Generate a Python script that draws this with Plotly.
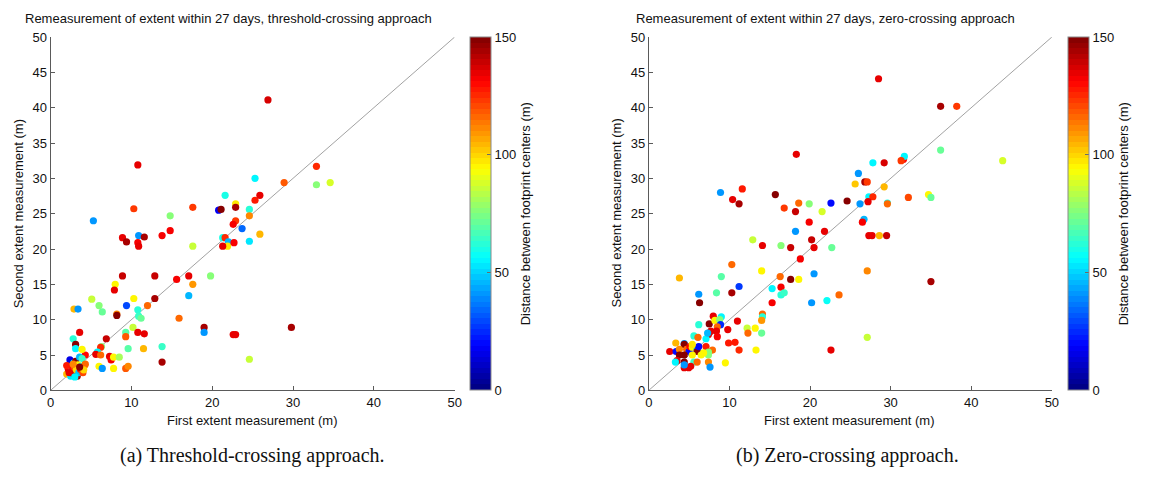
import plotly.graph_objects as go

# ---------------- data ----------------
# (a) threshold-crossing approach
x_a = [26.9, 10.8, 32.9, 25.3, 28.9, 34.6, 32.9, 21.6, 25.9, 25.3, 22.9, 22.9, 17.6, 10.3, 20.8, 21.1,
       14.8, 24.6, 24.6, 5.3, 22.9, 22.6, 23.7, 14.8, 25.9, 13.8, 10.9, 11.6, 8.9, 9.4, 10.8, 10.9,
       21.3, 21.6, 22.0, 21.9, 21.3, 22.7, 24.6, 17.6, 8.9, 12.9, 17.1, 19.8, 15.6, 8.0, 17.6, 7.9,
       17.1, 5.1, 10.3, 12.9, 6.0, 9.4, 12.0, 2.9, 3.4, 6.4, 10.8, 8.2, 8.2, 10.9, 11.2, 15.9,
       19.0, 29.8, 10.2, 9.3, 10.8, 11.6, 19.0, 22.6, 22.9, 9.3, 6.9, 3.6, 2.8, 3.1, 3.1, 9.6,
       11.5, 13.8, 6.3, 6.2, 5.8, 5.6, 6.2, 7.3, 7.5, 7.8, 8.5, 6.0, 6.4, 7.8, 9.3, 9.6,
       13.8, 24.6, 4.3, 3.9,
       2.0, 2.2, 2.3, 2.4, 2.5, 2.6, 2.7, 2.8, 2.9, 3.0, 3.1, 3.2, 3.3, 3.4, 3.5, 3.6,
       3.7, 3.8, 3.9, 4.0, 4.2, 4.3, 2.0, 2.3, 3.0, 2.8, 4.1, 3.6]
y_a = [41.1, 31.9, 31.7, 30.0, 29.4, 29.4, 29.1, 27.6, 27.6, 26.9, 26.4, 25.9, 25.9, 25.7, 25.5, 25.6,
       24.7, 25.6, 24.7, 24.0, 24.0, 23.5, 22.9, 22.6, 22.1, 21.9, 21.9, 21.7, 21.6, 21.0, 20.9, 20.4,
       21.6, 21.6, 21.0, 20.4, 20.4, 20.9, 21.1, 20.4, 16.2, 16.2, 16.2, 16.2, 15.7, 15.0, 15.0, 14.2,
       13.4, 12.9, 13.0, 13.0, 12.0, 12.0, 12.0, 11.5, 11.5, 11.1, 11.4, 10.8, 10.6, 10.5, 10.2, 10.2,
       8.9, 8.9, 8.9, 8.2, 8.2, 8.0, 8.2, 7.9, 7.9, 7.6, 7.3, 8.2, 7.3, 6.5, 5.9, 5.9,
       5.9, 6.2, 6.2, 6.1, 5.4, 5.1, 5.0, 4.8, 4.3, 4.7, 4.7, 3.4, 3.1, 3.1, 3.1, 3.4,
       4.0, 4.4, 5.0, 5.8,
       2.3, 3.0, 3.6, 4.3, 2.0, 2.8, 3.3, 2.4, 3.9, 3.2, 4.1, 2.9, 2.0, 3.6, 2.5, 4.7,
       3.0, 3.4, 4.5, 2.5, 3.5, 3.7, 3.5, 2.5, 1.9, 3.7, 2.9, 3.3]
d_a = [138, 135, 125, 55, 118, 88, 75, 60, 135, 128, 97, 145, 122, 122, 18, 148,
       75, 62, 112, 42, 122, 133, 35, 133, 105, 133, 42, 145, 135, 145, 133, 135,
       60, 125, 45, 97, 135, 133, 52, 85, 140, 140, 135, 75, 133, 95, 108, 135,
       45, 85, 95, 145, 75, 30, 115, 105, 42, 72, 62, 112, 148, 65, 72, 115,
       145, 145, 85, 68, 135, 135, 42, 135, 135, 118, 140, 135, 62, 148, 55, 68,
       105, 65, 75, 125, 55, 135, 115, 135, 133, 95, 80, 95, 40, 95, 118, 112,
       145, 85, 130, 95,
       105, 135, 75, 15, 52, 45, 130, 140, 55, 118, 148, 100, 145, 95, 48, 45,
       128, 60, 65, 120, 110, 115, 128, 135, 55, 112, 100, 150]

# (b) zero-crossing approach
x_b = [28.5, 36.2, 38.2, 36.2, 43.9, 18.3, 31.6, 31.7, 31.3, 27.8, 29.2, 26.0, 25.6, 26.8, 27.1, 29.2,
       8.9, 10.4, 11.6, 11.2, 15.7, 27.3, 27.8, 34.7, 35.0, 32.2, 16.8, 18.6, 19.9, 22.6, 24.6, 27.2,
       26.2, 29.6, 29.6, 21.5, 18.2, 26.7, 26.5, 19.9, 18.2, 21.8, 27.3, 27.7, 28.6, 29.5, 12.9, 14.1,
       16.4, 17.6, 20.2, 20.5, 22.7, 18.8, 10.3, 14.0, 27.1, 3.8, 9.0, 16.3, 18.6, 17.6, 20.5, 35.0,
       6.2, 8.4, 10.3, 11.2, 15.3, 16.4, 16.4, 16.8, 6.3, 15.3, 20.2, 22.1, 23.6, 14.1, 14.1, 14.0,
       11.0, 9.8, 12.2, 13.2, 12.3, 14.0, 9.9, 10.7, 11.2, 13.3, 9.5, 22.6, 27.1, 8.0, 9.0, 6.2,
       7.5, 8.2, 8.8, 8.9, 8.5, 7.4, 7.7, 8.4, 8.5, 7.1, 5.6, 6.1, 7.3, 3.35, 4.4, 4.4,
       2.6, 3.4, 3.8, 4.7, 5.0, 5.1, 5.4, 6.0, 6.0, 6.2, 7.1, 7.9, 7.4, 7.4, 6.8, 6.5,
       5.4, 3.8, 4.4, 3.5, 3.3, 4.4, 5.6, 6.0, 7.4, 4.4, 4.95, 5.2, 7.6, 4.4, 5.4]
y_b = [44.1, 40.2, 40.2, 34.0, 32.5, 33.4, 32.7, 33.1, 32.5, 32.2, 32.2, 30.7, 29.2, 29.5, 29.5, 28.8,
       28.0, 27.0, 28.5, 26.4, 27.7, 27.4, 27.4, 27.7, 27.3, 27.3, 25.8, 26.5, 26.4, 26.5, 26.8, 26.7,
       26.4, 26.5, 26.4, 25.3, 25.3, 24.2, 23.8, 23.8, 22.5, 22.5, 21.9, 21.9, 21.9, 21.9, 21.3, 20.5,
       20.5, 20.2, 21.3, 20.2, 20.2, 18.6, 17.8, 16.9, 16.9, 15.9, 16.1, 16.1, 15.7, 15.7, 16.5, 15.4,
       13.6, 13.8, 13.8, 14.7, 14.4, 14.6, 13.5, 13.8, 12.4, 12.4, 12.4, 12.7, 13.5, 10.8, 10.4, 9.9,
       9.8, 8.6, 8.8, 8.8, 8.1, 8.1, 6.7, 6.8, 5.7, 5.7, 3.9, 5.7, 7.5, 10.5, 10.4, 9.3,
       9.4, 9.9, 10.0, 9.3, 9.0, 7.9, 8.4, 8.4, 7.6, 7.3, 7.7, 7.5, 8.1, 6.7, 6.6, 6.5,
       5.5, 5.5, 5.8, 5.8, 5.5, 6.2, 6.1, 5.7, 5.5, 6.2, 6.2, 5.7, 5.4, 5.0, 5.3, 5.0,
       5.0, 5.0, 5.0, 4.2, 4.0, 4.0, 4.0, 4.0, 4.0, 3.2, 3.2, 3.4, 3.3, 3.6, 6.5]
d_b = [135, 145, 122, 72, 88, 135, 130, 55, 122, 55, 138, 42, 102, 145, 122, 105,
       42, 135, 128, 145, 148, 55, 125, 95, 72, 120, 122, 115, 75, 20, 148, 135,
       42, 60, 115, 88, 140, 45, 133, 133, 42, 135, 135, 135, 105, 140, 85, 135,
       75, 140, 140, 135, 72, 133, 115, 95, 112, 105, 70, 115, 95, 148, 42, 145,
       42, 68, 145, 28, 55, 133, 62, 65, 148, 133, 42, 58, 115, 115, 62, 108,
       135, 135, 85, 95, 115, 72, 128, 128, 125, 95, 95, 135, 85, 135, 55, 62,
       148, 95, 75, 25, 115, 135, 135, 135, 133, 55, 62, 115, 45, 105, 40, 148,
       135, 20, 112, 115, 20, 133, 95, 40, 148, 20, 128, 115, 75, 75, 95, 95,
       95, 148, 148, 135, 55, 148, 65, 115, 112, 135, 135, 135, 42, 42, 97]

axis_ticks = [0, 10, 20, 30, 40, 50]
y_ticks = [0, 5, 10, 15, 20, 25, 30, 35, 40, 45, 50]
cbar_ticks = [0, 50, 100, 150]
diag = [0, 50]

titles = ["Remeasurement of extent within 27 days, threshold-crossing approach",
          "Remeasurement of extent within 27 days, zero-crossing approach"]
captions = ["(a) Threshold-crossing approach.", "(b) Zero-crossing approach."]
xlabel = "First extent measurement (m)"
ylabel = "Second extent measurement (m)"
cblabel = "Distance between footprint centers (m)"

# ---------------- style ----------------
W, H = 1149, 488
FONT = "Liberation Sans, Arial, sans-serif"
FS = 13


def jet(t):
    def c(v):
        return max(0.0, min(1.0, v))
    r = c(1.5 - abs(4 * t - 3))
    g = c(1.5 - abs(4 * t - 2))
    b = c(1.5 - abs(4 * t - 1))
    return f"rgb({int(round(r*255))},{int(round(g*255))},{int(round(b*255))})"


n = 64
jet_scale = []
for i in range(n):
    col = jet((i + 0.5) / n)
    jet_scale.append([i / n, col])
    jet_scale.append([(i + 1) / n, col])


def px(x):
    return x / W


def py(y):
    return 1 - y / H


fig = go.Figure()

panels = [
    dict(x=x_a, y=y_a, d=d_a, xa="x", ya="y", ca="coloraxis"),
    dict(x=x_b, y=y_b, d=d_b, xa="x2", ya="y2", ca="coloraxis2"),
]

for p in panels:
    fig.add_trace(go.Scatter(x=diag, y=diag, mode="lines", xaxis=p["xa"], yaxis=p["ya"],
                             line=dict(color="#8a8a8a", width=0.8), hoverinfo="skip",
                             showlegend=False))
    fig.add_trace(go.Scatter(x=p["x"], y=p["y"], mode="markers", xaxis=p["xa"], yaxis=p["ya"],
                             marker=dict(size=7.2, color=p["d"], coloraxis=p["ca"],
                                         line=dict(width=0)),
                             showlegend=False))

y_top, y_bot = 31, 395.5
common_x = dict(range=[0, 50], tickvals=axis_ticks, showgrid=False, zeroline=False,
                showline=True, linecolor="#5a5a5a", linewidth=1, ticks="inside", ticklen=4,
                tickcolor="#5a5a5a", tickfont=dict(family=FONT, size=FS, color="#111"),
                fixedrange=True)
common_y = dict(common_x)
common_y["tickvals"] = y_ticks

cbar_common = dict(thickness=21, len=(y_bot - y_top) / H, lenmode="fraction",
                   y=py((y_top + y_bot) / 2), yanchor="middle", xanchor="left",
                   xpad=0, ypad=0,
                   outlinecolor="#8a8a8a", outlinewidth=1, tickvals=cbar_ticks,
                   ticks="inside", ticklen=4, tickcolor="#6a6a6a",
                   tickfont=dict(family=FONT, size=FS, color="#111"),
                   title=dict(text=cblabel, side="right",
                              font=dict(family=FONT, size=FS, color="#111")))

fig.update_layout(
    width=W, height=H, margin=dict(l=0, r=0, t=0, b=0),
    paper_bgcolor="white", plot_bgcolor="white",
    xaxis=dict(domain=[px(47), px(455)], anchor="y", **common_x),
    yaxis=dict(domain=[py(y_bot), py(y_top)], anchor="x", **common_y),
    xaxis2=dict(domain=[px(651), px(1058)], anchor="y2", **common_x),
    yaxis2=dict(domain=[py(y_bot), py(y_top)], anchor="x2", **common_y),
    coloraxis=dict(cmin=0, cmax=150, colorscale=jet_scale,
                   colorbar=dict(x=px(471), **cbar_common)),
    coloraxis2=dict(cmin=0, cmax=150, colorscale=jet_scale,
                    colorbar=dict(x=px(1074), **cbar_common)),
)

ann = []
# titles
for tx, t in zip([19, 636], titles):
    ann.append(dict(x=px(tx), y=py(12), xref="paper", yref="paper", text=t, showarrow=False,
                    xanchor="left", yanchor="middle",
                    font=dict(family=FONT, size=FS, color="#111")))
# x labels
for cx in [251, 854]:
    ann.append(dict(x=px(cx), y=py(427), xref="paper", yref="paper", text=xlabel,
                    showarrow=False, xanchor="center", yanchor="middle",
                    font=dict(family=FONT, size=FS, color="#111")))
# y labels
for cx in [15, 618]:
    ann.append(dict(x=px(cx), y=py(213), xref="paper", yref="paper", text=ylabel,
                    showarrow=False, xanchor="center", yanchor="middle", textangle=-90,
                    font=dict(family=FONT, size=FS, color="#111")))
# captions
for cx, t in zip([251, 852], captions):
    ann.append(dict(x=px(cx), y=py(463), xref="paper", yref="paper", text=t,
                    showarrow=False, xanchor="center", yanchor="middle",
                    font=dict(family="Liberation Serif, DejaVu Serif, serif", size=20,
                              color="#111")))
fig.update_layout(annotations=ann)

fig.write_html("out.html",
               post_script="document.body.style.margin='0';document.body.style.padding='0';"
                           "document.documentElement.style.overflow='hidden';")
